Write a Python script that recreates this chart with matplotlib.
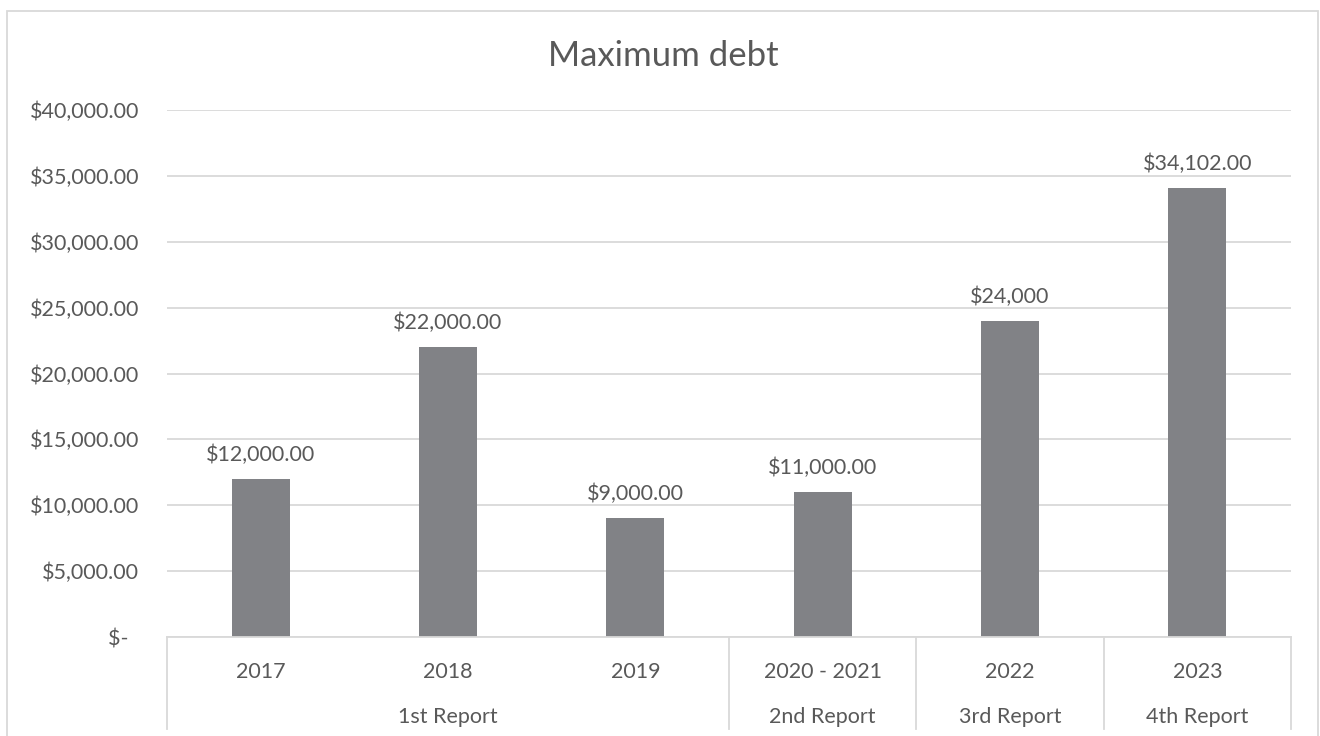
import matplotlib
matplotlib.use("Agg")
import matplotlib.pyplot as plt
from matplotlib.patches import Rectangle
from matplotlib.ticker import FuncFormatter
import matplotlib.transforms as mtransforms

plt.rcParams['font.family'] = ['Lato', 'DejaVu Sans']

# Data
years = ["2017", "2018", "2019", "2020 - 2021", "2022", "2023"]
debt = [12000, 22000, 9000, 11000, 24000, 34102]
label_decimals = [2, 2, 2, 2, 0, 2]
reports = ["1st Report", "2nd Report", "3rd Report", "4th Report"]
report_sizes = [3, 1, 1, 1]
y_ticks = [0, 5000, 10000, 15000, 20000, 25000, 30000, 35000, 40000]

TEXT = "#595959"
GRID = "#d9d9d9"
BAR = "#818286"
FS = 15.5

W, H = 1320, 736
fig = plt.figure(figsize=(W / 100, H / 100), dpi=100)
fig.patch.set_facecolor("white")

# chart-area border (runs off the bottom edge)
fig.patches.append(Rectangle((7 / W, -0.05), (1318 - 7) / W, 1.05 - 11 / H,
                             transform=fig.transFigure, fill=False,
                             edgecolor=GRID, linewidth=1.3))

left, right, top, bottom = 167 / W, 1291 / W, 1 - 110 / H, 1 - 637 / H
ax = fig.add_axes([left, bottom, right - left, top - bottom])

x = list(range(len(years)))
bars = ax.bar(x, debt, width=0.31, color=BAR, zorder=3)

labels = [f"${v:,.{d}f}" for v, d in zip(debt, label_decimals)]
ax.bar_label(bars, labels=labels, padding=10, fontsize=FS, color=TEXT)

ax.set_xlim(-0.5, len(years) - 0.5)
ax.set_ylim(0, 40000)
ax.set_yticks(y_ticks)


def money(v, pos):
    if v == 0:
        return "$-  "
    return f"${v:,.2f}"


ax.yaxis.set_major_formatter(FuncFormatter(money))
ax.tick_params(axis="y", length=0, pad=20, labelsize=FS, labelcolor=TEXT)
ax.grid(axis="y", color=GRID, linewidth=1.3, zorder=0)

for s in ["top", "right", "left", "bottom"]:
    ax.spines[s].set_visible(False)

# first level of the category axis
ax.set_xticks(x)
ax.set_xticklabels(years)
ax.tick_params(axis="x", length=0, pad=18, labelsize=FS, labelcolor=TEXT)

# category axis frame: baseline and group dividers
blend = mtransforms.blended_transform_factory(ax.transData, ax.transAxes)
ax.plot([-0.5, len(years) - 0.5], [0, 0], color=GRID, linewidth=1.3,
        transform=blend, clip_on=False, zorder=4)
edges = [-0.5]
for n in report_sizes:
    edges.append(edges[-1] + n)
depth = -(729 - 637) / (637 - 110)
for e in edges:
    ax.plot([e, e], [0, depth], color=GRID, linewidth=1.3,
            transform=blend, clip_on=False)

# second level: report groups
for name, a, b in zip(reports, edges[:-1], edges[1:]):
    ax.text((a + b) / 2, -(717 - 637) / (637 - 110), name, transform=blend,
            ha="center", va="center", fontsize=FS, color=TEXT)

fig.text(663 / W, 1 - 56 / H, "Maximum debt", ha="center", va="center",
         fontsize=25, color=TEXT)

fig.savefig("out.png", dpi=100, facecolor="white")
